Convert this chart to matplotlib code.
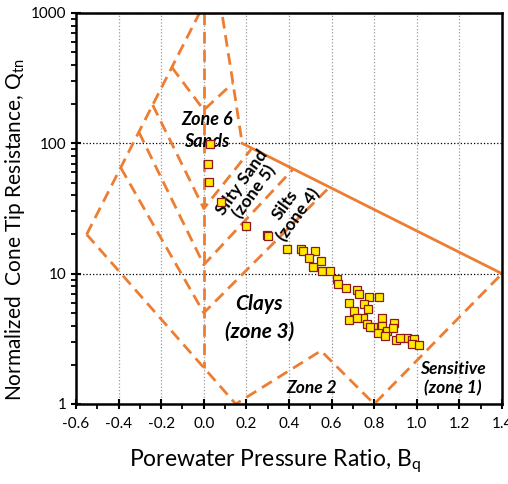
import matplotlib
matplotlib.use("Agg")
import matplotlib.pyplot as plt
from matplotlib.ticker import MultipleLocator, FixedLocator, NullFormatter

plt.rcParams['font.family'] = ['Lato', 'DejaVu Sans']

# zone boundaries (Bq, Qtn)
left_x = [-0.55, -0.02, 0.085, 0.137, 0.18]
left_q = [20, 1000, 1000, 290, 100]
vert_x = [0.0, 0.0]
vert_q = [1000, 1.9]
base_x = [-0.55, 0.15, 0.55, 0.80, 1.40]
base_q = [20, 1.0, 2.56, 1.0, 10]
v1_x = [-0.15, 0.0, 0.137]
v1_q = [383, 180, 290]
v2_x = [-0.24, 0.0, 0.226]
v2_q = [197, 31.6, 91.7]
v3_x = [-0.305, 0.0, 0.42]
v3_q = [122, 11.7, 63.6]
v4_x = [-0.39, 0.0, 0.59]
v4_q = [65, 5.0, 46.1]
solid_x = [0.18, 1.40]
solid_q = [100, 10]

# CPT data points
bq = [0.029, 0.018, 0.026, 0.081, 0.198, 0.298, 0.303, 0.392, 0.455, 0.464,
      0.522, 0.495, 0.549, 0.514, 0.554, 0.592, 0.627, 0.631, 0.666, 0.721,
      0.727, 0.777, 0.824, 0.683, 0.752, 0.705, 0.772, 0.746, 0.683, 0.768,
      0.835, 0.796, 0.835, 0.893, 0.819, 0.859, 0.887, 0.851, 0.901, 0.953,
      0.976, 0.987, 0.976, 1.012, 0.921, 0.720, 0.780]
qtn = [98, 69.8, 50.4, 35.4, 23.4, 19.9, 19.6, 15.5, 15.5, 15.0,
       14.8, 13.2, 12.6, 11.2, 10.5, 10.4, 9.1, 8.3, 7.8, 7.5,
       7.0, 6.6, 6.6, 6.0, 5.8, 5.2, 5.4, 4.6, 4.4, 4.1,
       4.6, 3.9, 4.0, 4.2, 3.5, 3.6, 3.8, 3.3, 3.1, 3.2,
       3.1, 3.15, 2.9, 2.84, 3.2, 4.6, 3.9]

orange = '#ED7D31'

fig = plt.figure(figsize=(5.08, 4.84), dpi=100)
ax = fig.add_axes([0.1496, 0.1653, 0.8386, 0.8079])

dash = dict(color=orange, linewidth=2.0, linestyle=(0, (4.2, 2.4)))
for xs, qs in [(left_x, left_q), (vert_x, vert_q), (base_x, base_q),
               (v1_x, v1_q), (v2_x, v2_q), (v3_x, v3_q), (v4_x, v4_q)]:
    ax.plot(xs, qs, **dash)
ax.plot(solid_x, solid_q, color=orange, linewidth=2.0)

ax.plot(bq, qtn, linestyle='none', marker='s', markersize=5.8,
        markerfacecolor='#FFEA00', markeredgecolor='#8B1A1A',
        markeredgewidth=0.9, zorder=5)

ax.set_yscale('log')
ax.set_xlim(-0.6, 1.4)
ax.set_ylim(1, 1000)
ax.xaxis.set_minor_locator(MultipleLocator(0.1))
ax.yaxis.set_major_locator(FixedLocator([1, 10, 100, 1000]))
ax.set_yticklabels(['1', '10', '100', '1000'])
ax.set_xticks([-0.6, -0.4, -0.2, 0.0, 0.2, 0.4, 0.6, 0.8, 1.0, 1.2, 1.4])
ax.set_xticklabels(['-0.6', '-0.4', '-0.2', '0.0', '0.2', '0.4', '0.6',
                    '0.8', '1.0', '1.2', '1.4'])
ax.yaxis.set_minor_formatter(NullFormatter())
ax.tick_params(which='major', direction='inout', length=7, width=1.5,
               labelsize=11, color='black')
ax.tick_params(which='minor', direction='out', length=3.5, width=1.3)
ax.tick_params(axis='x', which='major', pad=6)

ax.xaxis.grid(True, which='major', color='#999999', linestyle=':', linewidth=0.9)
ax.yaxis.grid(True, which='major', color='black', linestyle=':', linewidth=0.9)
for s in ax.spines.values():
    s.set_linewidth(1.8)

zone_font = dict(fontweight='bold', fontstyle='italic', ha='center', va='center')
ax.text(0.015, 125, 'Zone 6\nSands', fontsize=13, linespacing=1.35, **zone_font)
ax.text(0.26, 4.6, 'Clays\n(zone 3)', fontsize=15, linespacing=1.45, **zone_font)
ax.text(0.505, 1.33, 'Zone 2', fontsize=12.5, **zone_font)
ax.text(1.17, 1.57, 'Sensitive\n(zone 1)', fontsize=12.5, linespacing=1.2, **zone_font)
ax.text(0.21, 46, 'Silty Sand\n(zone 5)', fontsize=12.5, fontweight='bold',
        rotation=54, ha='center', va='center', linespacing=1.0)
ax.text(0.415, 31, 'Silts\n(zone 4)', fontsize=12.5, fontweight='bold',
        rotation=54, ha='center', va='center', linespacing=1.0)

fig.text(0.541, 0.0455, 'Porewater Pressure Ratio, B$_\\mathregular{q}$',
         fontsize=16.5, ha='center', va='center')
fig.text(0.03, 0.525, 'Normalized  Cone Tip Resistance, Q$_\\mathregular{tn}$',
         fontsize=15, ha='center', va='center', rotation=90)

fig.savefig('out.png', dpi=100)
